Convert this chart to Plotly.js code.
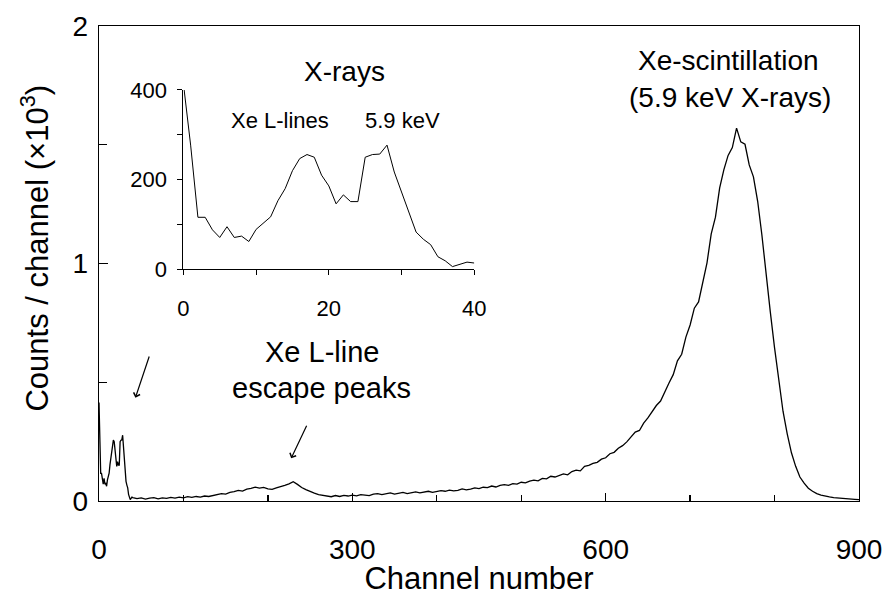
<!DOCTYPE html>
<html>
<head>
<meta charset="utf-8">
<script src="https://cdn.plot.ly/plotly-3.0.1.min.js"></script>
<style>html,body{margin:0;padding:0;background:#fff;}#chart{width:885px;height:596px;}</style>
</head>
<body>
<div id="chart"></div>
<script>
// Inset: X-ray region, channels 0-40, counts per channel
const insetChannels = [0,1,2,3,4,5,6,7,8,9,10,11,12,13,14,15,16,17,18,19,20,21,22,23,24,25,26,27,28,29,30,31,32,33,34,35,36,37,38,39,40];
const insetCounts = [415,277,116,116,88,71,95,71,74,62,89,103,117,153,180,220,247,256,250,210,186,146,166,151,151,250,256,257,277,217,171,128,83,67,55,28,19,6,11,16,14];

// Main spectrum beyond channel 40 (counts / channel, x10^3)
const tailChannels = [45,50,55,60,65,70,75,80,85,90,95,100,105,110,115,120,125,130,135,140,145,150,155,160,165,170,175,180,185,190,195,200,205,210,215,220,225,230,235,240,245,250,255,260,265,270,275,280,285,290,295,300,305,310,315,320,325,330,335,340,345,350,355,360,365,370,375,380,385,390,395,400,405,410,415,420,425,430,435,440,445,450,455,460,465,470,475,480,485,490,495,500,505,510,515,520,525,530,535,540,545,550,555,560,565,570,575,580,585,590,595,600,605,610,615,620,625,630,635,640,645,650,655,660,665,670,675,680,685,690,695,700,705,710,715,720,725,730,735,740,745,750,755,760,765,770,775,780,785,790,795,800,805,810,815,820,825,830,835,840,845,850,855,860,865,870,875,880,885,890,895,900];
const tailCounts = [0.010,0.013,0.008,0.012,0.014,0.009,0.013,0.011,0.015,0.012,0.016,0.013,0.018,0.015,0.019,0.016,0.021,0.019,0.024,0.027,0.031,0.029,0.036,0.039,0.045,0.042,0.050,0.053,0.058,0.054,0.057,0.051,0.049,0.055,0.059,0.066,0.072,0.081,0.070,0.057,0.048,0.039,0.033,0.027,0.024,0.021,0.018,0.023,0.019,0.024,0.021,
  0.025,0.022,0.027,0.026,0.023,0.029,0.031,0.027,0.030,0.034,0.029,0.032,0.036,0.031,0.033,0.038,0.034,0.037,0.041,0.036,
  0.040,0.044,0.041,0.046,0.043,0.045,0.051,0.047,0.050,0.055,0.052,0.058,0.056,0.063,0.059,0.066,0.069,0.066,0.073,0.071,
  0.079,0.076,0.084,0.088,0.085,0.095,0.093,0.104,0.101,0.108,0.114,0.110,0.124,0.130,0.127,0.146,0.150,0.158,0.163,0.176,
  0.182,0.199,0.205,0.222,0.233,0.249,0.272,0.290,0.297,0.328,0.350,0.377,0.402,0.421,0.462,0.497,0.532,0.590,0.618,0.690,
  0.741,0.812,0.838,0.925,1.003,1.125,1.195,1.318,1.395,1.455,1.488,1.570,1.512,1.502,1.415,1.365,1.262,1.120,0.950,0.795,
  0.645,0.505,0.378,0.283,0.203,0.146,0.101,0.075,0.054,0.041,0.031,0.025,0.020,0.017,0.014,0.012,0.011,0.009,0.008,0.007,0.006];

const xTickVals = [0,300,600,900];
const xTickText = ['0','300','600','900'];
const yTickVals = [0,1,2];
const yTickText = ['0','1','2'];
const insetXTickVals = [0,20,40];
const insetYTickVals = [0,200,400];

const mainX = insetChannels.concat(tailChannels);
const mainY = insetCounts.map(v => v / 1000).concat(tailCounts);

const FONT = 'Arial, "Liberation Sans", sans-serif';

const traces = [
  {x: mainX, y: mainY, type: 'scatter', mode: 'lines', line: {color: '#000', width: 1.3}, xaxis: 'x', yaxis: 'y', hoverinfo: 'skip'},
  {x: insetChannels, y: insetCounts, type: 'scatter', mode: 'lines', line: {color: '#000', width: 1}, xaxis: 'x2', yaxis: 'y2', hoverinfo: 'skip', cliponaxis: true}
];

const layout = {
  width: 885, height: 596,
  margin: {l: 99, r: 26, t: 26, b: 95},
  paper_bgcolor: '#fff', plot_bgcolor: 'rgba(0,0,0,0)',
  showlegend: false,
  font: {family: FONT, color: '#000', size: 28},
  xaxis: {
    range: [0, 900], domain: [0, 1], anchor: 'y',
    tickvals: xTickVals, ticktext: xTickText,
    ticks: 'inside', ticklen: 8, tickwidth: 1.3, tickcolor: '#000',
    minor: {dtick: 100, tick0: 0, ticks: 'inside', ticklen: 6, tickwidth: 1.3, tickcolor: '#000'},
    showline: true, linecolor: '#000', linewidth: 1.3, mirror: true,
    showgrid: false, zeroline: false,
    tickfont: {size: 28, family: FONT}, ticklabelstandoff: 23,
    title: {text: 'Channel number', font: {size: 31, family: FONT}, standoff: 9}
  },
  yaxis: {
    range: [0, 2], domain: [0, 1], anchor: 'x',
    tickvals: yTickVals, ticktext: yTickText,
    ticks: 'inside', ticklen: 9, tickwidth: 1.3, tickcolor: '#000',
    minor: {dtick: 0.5, tick0: 0, ticks: 'inside', ticklen: 8, tickwidth: 1.3, tickcolor: '#000'},
    showline: true, linecolor: '#000', linewidth: 1.3, mirror: true,
    showgrid: false, zeroline: false,
    tickfont: {size: 28, family: FONT}, ticklabelstandoff: 4
  },
  xaxis2: {
    range: [0, 40], domain: [0.111, 0.4938], anchor: 'y2',
    tickvals: insetXTickVals,
    ticks: 'outside', ticklen: 5, tickwidth: 1, tickcolor: '#000',
    minor: {dtick: 10, tick0: 0, ticks: 'outside', ticklen: 5, tickwidth: 1, tickcolor: '#000'},
    showline: true, linecolor: '#000', linewidth: 1, mirror: false,
    showgrid: false, zeroline: false,
    tickfont: {size: 22, family: FONT}, ticklabelstandoff: 14
  },
  yaxis2: {
    range: [0, 400], domain: [0.4878, 0.8653], anchor: 'x2',
    tickvals: insetYTickVals,
    ticks: 'outside', ticklen: 5, tickwidth: 1, tickcolor: '#000',
    minor: {dtick: 100, tick0: 0, ticks: 'outside', ticklen: 5, tickwidth: 1, tickcolor: '#000'},
    showline: true, linecolor: '#000', linewidth: 1, mirror: false,
    showgrid: false, zeroline: false,
    tickfont: {size: 22, family: FONT}, ticklabelstandoff: 6
  },
  annotations: [
    {text: 'Counts / channel (×10<sup>3</sup>)', xref: 'paper', yref: 'paper', x: -0.0846, y: 0.533, textangle: -90, showarrow: false, xanchor: 'center', yanchor: 'middle', font: {size: 31}},
    {text: 'Xe-scintillation', xref: 'paper', yref: 'paper', x: 0.8283, y: 0.9284, showarrow: false, xanchor: 'center', yanchor: 'middle', font: {size: 28}},
    {text: '(5.9 keV X-rays)', xref: 'paper', yref: 'paper', x: 0.8297, y: 0.8505, showarrow: false, xanchor: 'center', yanchor: 'middle', font: {size: 28}},
    {text: 'X-rays', xref: 'paper', yref: 'paper', x: 0.3229, y: 0.9032, showarrow: false, xanchor: 'center', yanchor: 'middle', font: {size: 28}},
    {text: 'Xe L-lines', xref: 'paper', yref: 'paper', x: 0.2384, y: 0.80, showarrow: false, xanchor: 'center', yanchor: 'middle', font: {size: 22}},
    {text: '5.9 keV', xref: 'paper', yref: 'paper', x: 0.3999, y: 0.80, showarrow: false, xanchor: 'center', yanchor: 'middle', font: {size: 22}},
    {text: 'Xe L-line', xref: 'paper', yref: 'paper', x: 0.2930, y: 0.3137, showarrow: false, xanchor: 'center', yanchor: 'middle', font: {size: 29}},
    {text: 'escape peaks', xref: 'paper', yref: 'paper', x: 0.2930, y: 0.2379, showarrow: false, xanchor: 'center', yanchor: 'middle', font: {size: 29}},
    {text: '', xref: 'paper', yref: 'paper', x: 0.0479, y: 0.2175, showarrow: true, ax: 14.3, ay: -42.7, axref: 'pixel', ayref: 'pixel', arrowhead: 4, arrowsize: 1.1, arrowwidth: 1.2, arrowcolor: '#000', standoff: 0},
    {text: '', xref: 'paper', yref: 'paper', x: 0.2528, y: 0.0899, showarrow: true, ax: 16.2, ay: -34.1, axref: 'pixel', ayref: 'pixel', arrowhead: 4, arrowsize: 1.1, arrowwidth: 1.2, arrowcolor: '#000', standoff: 0}
  ]
};

Plotly.newPlot('chart', traces, layout, {staticPlot: true, displayModeBar: false});
</script>
</body>
</html>
